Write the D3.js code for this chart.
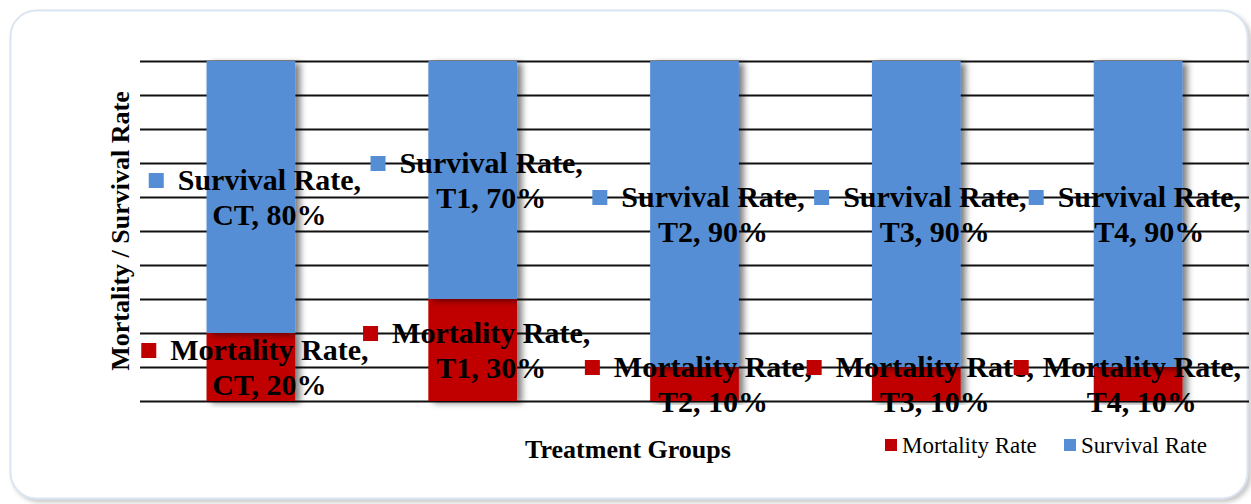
<!DOCTYPE html>
<html>
<head>
<meta charset="utf-8">
<script src="https://cdn.jsdelivr.net/npm/d3@7"></script>
<style>
  html, body { margin: 0; padding: 0; background: #fff; }
  svg { display: block; }
  text { font-family: "Liberation Serif", "Times New Roman", serif; }
</style>
</head>
<body>
<script>
// chart data
const groups = ["CT", "T1", "T2", "T3", "T4"];
const mortality = [20, 30, 10, 10, 10];
const survival = [80, 70, 90, 90, 90];
const seriesNames = ["Mortality Rate", "Survival Rate"];
const seriesColors = ["#C00000", "#558ED5"];

const W = 1251, H = 504;
const plot = {left: 140, right: 1249, top: 61, bottom: 401};

const svg = d3.select("body").append("svg")
    .attr("width", W)
    .attr("height", H);

const defs = svg.append("defs");
defs.append("filter").attr("id", "barShadow")
    .attr("x", "-20%").attr("y", "-5%").attr("width", "160%").attr("height", "115%")
  .append("feDropShadow")
    .attr("dx", 5).attr("dy", 2).attr("stdDeviation", 3)
    .attr("flood-color", "#000").attr("flood-opacity", 0.5);
defs.append("filter").attr("id", "cardShadow")
    .attr("x", "-5%").attr("y", "-5%").attr("width", "110%").attr("height", "110%")
  .append("feDropShadow")
    .attr("dx", 3).attr("dy", 3).attr("stdDeviation", 2)
    .attr("flood-color", "#888").attr("flood-opacity", 0.45);

// card border
svg.append("rect")
    .attr("x", 10.5).attr("y", 10.5)
    .attr("width", 1237).attr("height", 488)
    .attr("rx", 26)
    .attr("fill", "#fff")
    .attr("stroke", "#dbe4f1")
    .attr("stroke-width", 2)
    .attr("filter", "url(#cardShadow)");

// scales
const x = d3.scaleBand()
    .domain(groups)
    .range([plot.left, plot.right])
    .paddingInner(0.6)
    .paddingOuter(0.3);

const y = d3.scaleLinear()
    .domain([0, 100])
    .range([plot.bottom, plot.top]);

// gridlines
svg.append("g")
    .attr("transform", `translate(${plot.left},0)`)
    .call(d3.axisLeft(y).ticks(10).tickSize(-(plot.right - plot.left)).tickFormat(""))
    .call(g => g.select(".domain").remove())
    .call(g => g.selectAll("line").attr("stroke", "#111").attr("stroke-width", 2));

// stacked data
const table = groups.map((g, i) => ({group: g, mortality: mortality[i], survival: survival[i]}));
const stack = d3.stack().keys(["mortality", "survival"])(table);

// bars
svg.append("g")
  .selectAll("g")
  .data(stack)
  .join("g")
    .attr("fill", (d, i) => seriesColors[i])
  .selectAll("rect")
  .data(d => d)
  .join("rect")
    .attr("x", d => x(d.data.group))
    .attr("y", d => y(d[1]))
    .attr("width", x.bandwidth())
    .attr("height", d => y(d[0]) - y(d[1]))
    .attr("filter", "url(#barShadow)");

// data labels with legend keys
const labels = svg.append("g");
stack.forEach((s, si) => {
  s.forEach(d => {
    const cx = x(d.data.group) + x.bandwidth() / 2 + 4;
    const cy = y((d[0] + d[1]) / 2);
    const g = labels.append("g");
    const t1 = g.append("text")
        .attr("font-size", 30)
        .attr("font-weight", "bold")
        .attr("fill", "#000")
        .text(seriesNames[si] + ",");
    const w1 = t1.node().getComputedTextLength();
    const keySize = 15, gap = 14;
    const blockW = keySize + gap + w1;
    let left = cx - blockW / 2;
    if (left + blockW > 1241) left = 1241 - blockW;
    t1.attr("x", left + keySize + gap).attr("y", cy - 7);
    g.append("rect")
        .attr("x", left)
        .attr("y", cy - 7 - 17)
        .attr("width", keySize)
        .attr("height", keySize)
        .attr("fill", seriesColors[si]);
    g.append("text")
        .attr("font-size", 30)
        .attr("font-weight", "bold")
        .attr("fill", "#000")
        .attr("text-anchor", "middle")
        .attr("x", left + keySize + gap + w1 / 2)
        .attr("y", cy + 28)
        .text(`${d.data.group}, ${d[1] - d[0]}%`);
  });
});

// axis titles
svg.append("text")
    .attr("x", 628).attr("y", 458)
    .attr("text-anchor", "middle")
    .attr("font-size", 26)
    .attr("font-weight", "bold")
    .text("Treatment Groups");

svg.append("text")
    .attr("transform", "translate(129,231) rotate(-90)")
    .attr("text-anchor", "middle")
    .attr("font-size", 26)
    .attr("font-weight", "bold")
    .text("Mortality / Survival Rate");

// legend
const legendX = [885, 1064];
const legend = svg.append("g");
seriesNames.forEach((name, i) => {
  legend.append("rect")
      .attr("x", legendX[i]).attr("y", 439)
      .attr("width", 12).attr("height", 12)
      .attr("fill", seriesColors[i]);
  legend.append("text")
      .attr("x", legendX[i] + 17).attr("y", 453)
      .attr("font-size", 23)
      .attr("fill", "#000")
      .text(name);
});
</script>
</body>
</html>
